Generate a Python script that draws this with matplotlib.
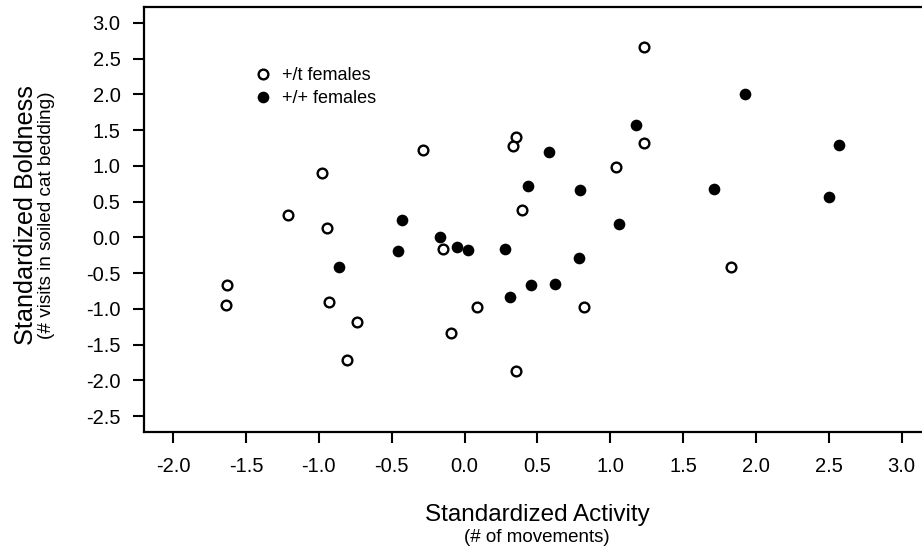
import matplotlib
matplotlib.use("Agg")
import matplotlib.pyplot as plt
import numpy as np

plt.rcParams['font.family'] = ['Liberation Sans', 'DejaVu Sans']
plt.rcParams['axes.unicode_minus'] = False

# +/t females (open circles)
het_activity = [1.234, 0.351, 0.330, 1.230, -0.288, 1.037, -0.977, 0.396, -1.212, -0.945,
                -0.150, -1.629, -1.636, -0.931, 0.085, -0.741, -0.095, -0.809, 0.351, 1.827, 0.820]
het_boldness = [2.663, 1.399, 1.274, 1.325, 1.223, 0.980, 0.906, 0.384, 0.319, 0.137,
                -0.166, -0.670, -0.944, -0.907, -0.967, -1.177, -1.335, -1.718, -1.866, -0.408, -0.967]

# +/+ females (filled circles)
wt_activity = [1.923, 1.177, 0.579, 2.571, 0.433, 0.792, 1.712, 2.500, 1.058, -0.428,
               -0.169, -0.052, 0.025, -0.455, 0.279, -0.860, 0.454, 0.310, 0.785, 0.619]
wt_boldness = [2.006, 1.567, 1.195, 1.293, 0.724, 0.664, 0.678, 0.566, 0.193, 0.245,
               0.011, -0.133, -0.180, -0.189, -0.166, -0.408, -0.670, -0.828, -0.292, -0.646]

x_ticks = [-2.0, -1.5, -1.0, -0.5, 0.0, 0.5, 1.0, 1.5, 2.0, 2.5, 3.0]
y_ticks = [-2.5, -2.0, -1.5, -1.0, -0.5, 0.0, 0.5, 1.0, 1.5, 2.0, 2.5, 3.0]

W, H = 922, 550
fig = plt.figure(figsize=(W / 100, H / 100), dpi=100)

# axes box in pixels (right side runs off the image like the original)
left, right, top, bottom = 144, 930.7, 7, 432
ax = fig.add_axes([left / W, (H - bottom) / H, (right - left) / W, (bottom - top) / H])

ax.plot(het_activity, het_boldness, 'o', ls='none', markersize=7, markerfacecolor='white',
        markeredgecolor='black', markeredgewidth=1.7, label='+/t females', clip_on=False)
ax.plot(wt_activity, wt_boldness, 'o', ls='none', markersize=8.4, markerfacecolor='black',
        markeredgewidth=0, label='+/+ females', clip_on=False)

ax.set_xlim(-2.2, 3.2)
ax.set_ylim(-2.72, 3.22)
ax.set_xticks(x_ticks)
ax.set_xticklabels(['%.1f' % v for v in x_ticks])
ax.set_yticks(y_ticks)
ax.set_yticklabels(['%.1f' % v for v in y_ticks])

for s in ax.spines.values():
    s.set_linewidth(1.6)
ax.tick_params(direction='out', length=8, width=1.5, labelsize=14.5)
ax.tick_params(axis='x', pad=10)
ax.tick_params(axis='y', pad=9)

leg = ax.legend(loc='upper left', bbox_to_anchor=(254 / W, (H - 67) / H),
                bbox_transform=fig.transFigure, frameon=False, fontsize=13,
                borderpad=0, borderaxespad=0, handlelength=1.0, handletextpad=0.55,
                labelspacing=0.35, numpoints=1)

# axis titles
fig.text(537 / W, (H - 521.5) / H, 'Standardized Activity', fontsize=17.5,
         ha='center', va='baseline')
fig.text(537 / W, (H - 542) / H, '(# of movements)', fontsize=13.5,
         ha='center', va='baseline')
fig.text(33 / W, (H - 215) / H, 'Standardized Boldness', fontsize=18.2,
         rotation=90, rotation_mode='anchor', ha='center', va='baseline')
fig.text(51 / W, (H - 215) / H, '(# visits in soiled cat bedding)', fontsize=13.7,
         rotation=90, rotation_mode='anchor', ha='center', va='baseline')

fig.savefig('out.png', dpi=100)
